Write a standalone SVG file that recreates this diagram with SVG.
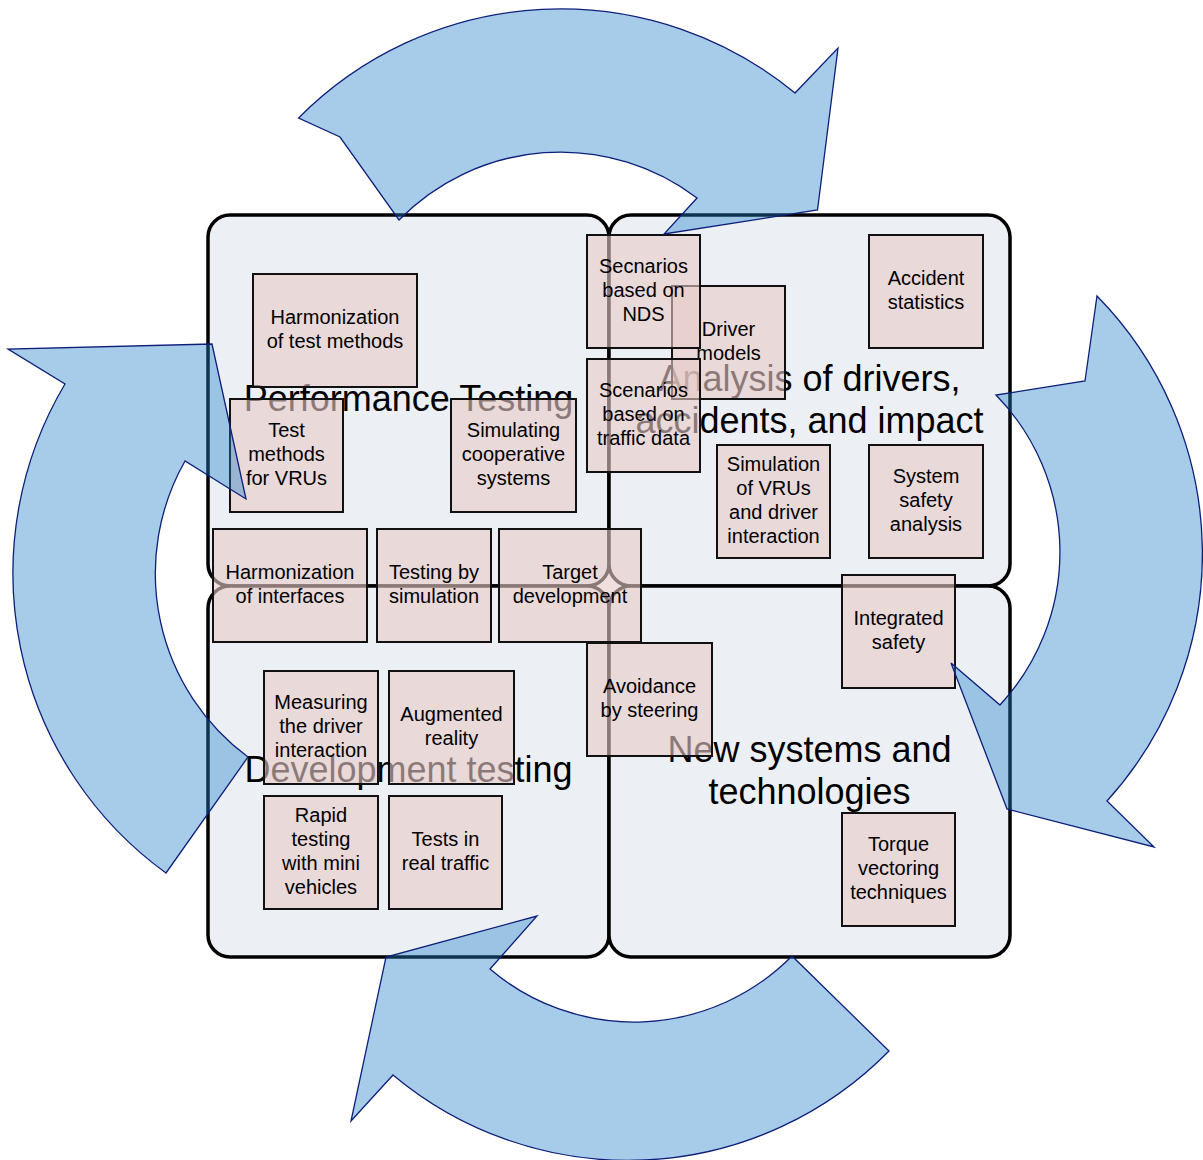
<svg xmlns="http://www.w3.org/2000/svg" width="1203" height="1160" viewBox="0 0 1203 1160">
<style>
.quad{fill:#ecf0f5;stroke:#000;stroke-width:3.5}
.qlabel{font-family:"Liberation Sans",Arial,sans-serif;font-size:36px;fill:#000;text-anchor:middle}
.box rect{fill:#e8cac6;fill-opacity:0.6;stroke:#111;stroke-width:2}
.box text{font-family:"Liberation Sans",Arial,sans-serif;font-size:20px;fill:#000;text-anchor:middle}
.arrow{fill:#2380c8;fill-opacity:0.4;stroke:#0d1f7a;stroke-width:1.3;stroke-linejoin:miter}
</style>
<rect width="1203" height="1160" fill="#fff"/>
<g id="quadrants">
<g id="q-performance"><rect class="quad" x="208" y="215" width="401" height="371" rx="22"/></g>
<g id="q-analysis"><rect class="quad" x="609" y="215" width="401" height="371" rx="22"/></g>
<g id="q-development"><rect class="quad" x="208" y="586" width="401" height="371" rx="22"/></g>
<g id="q-newsystems"><rect class="quad" x="609" y="586" width="401" height="371" rx="22"/></g>
</g>
<g id="quadrant-labels">
<text class="qlabel" x="408.5" y="411">Performance Testing</text>
<text class="qlabel" x="809.5" y="391">Analysis of drivers,</text>
<text class="qlabel" x="809.5" y="433">accidents, and impact</text>
<text class="qlabel" x="408.5" y="782">Development testing</text>
<text class="qlabel" x="809.5" y="762">New systems and</text>
<text class="qlabel" x="809.5" y="804">technologies</text>
</g>
<g id="nodes">
<g id="n-harm-test" class="box"><rect x="253" y="274" width="164" height="113"/><text x="335" y="324">Harmonization</text><text x="335" y="348">of test methods</text></g>
<g id="n-test-vru" class="box"><rect x="230" y="399" width="113" height="113"/><text x="286.5" y="437">Test</text><text x="286.5" y="461">methods</text><text x="286.5" y="485">for VRUs</text></g>
<g id="n-sim-coop" class="box"><rect x="451" y="399" width="125" height="113"/><text x="513.5" y="437">Simulating</text><text x="513.5" y="461">cooperative</text><text x="513.5" y="485">systems</text></g>
<g id="n-harm-if" class="box"><rect x="213" y="529" width="154" height="113"/><text x="290" y="579">Harmonization</text><text x="290" y="603">of interfaces</text></g>
<g id="n-test-sim" class="box"><rect x="377" y="529" width="114" height="113"/><text x="434" y="579">Testing by</text><text x="434" y="603">simulation</text></g>
<g id="n-target" class="box"><rect x="499" y="529" width="142" height="113"/><text x="570" y="579">Target</text><text x="570" y="603">development</text></g>
<g id="n-driver" class="box"><rect x="672" y="286" width="113" height="113"/><text x="728.5" y="336">Driver</text><text x="728.5" y="360">models</text></g>
<g id="n-nds" class="box"><rect x="587" y="235" width="113" height="113"/><text x="643.5" y="273">Secnarios</text><text x="643.5" y="297">based on</text><text x="643.5" y="321">NDS</text></g>
<g id="n-traffic" class="box"><rect x="587" y="359" width="113" height="113"/><text x="643.5" y="397">Scenarios</text><text x="643.5" y="421">based on</text><text x="643.5" y="445">traffic data</text></g>
<g id="n-accident" class="box"><rect x="869" y="235" width="114" height="113"/><text x="926" y="285">Accident</text><text x="926" y="309">statistics</text></g>
<g id="n-sim-vru" class="box"><rect x="717" y="445" width="113" height="113"/><text x="773.5" y="471">Simulation</text><text x="773.5" y="495">of VRUs</text><text x="773.5" y="519">and driver</text><text x="773.5" y="543">interaction</text></g>
<g id="n-safety" class="box"><rect x="869" y="445" width="114" height="113"/><text x="926" y="483">System</text><text x="926" y="507">safety</text><text x="926" y="531">analysis</text></g>
<g id="n-integrated" class="box"><rect x="842" y="575" width="113" height="113"/><text x="898.5" y="625">Integrated</text><text x="898.5" y="649">safety</text></g>
<g id="n-avoid" class="box"><rect x="587" y="643" width="125" height="113"/><text x="649.5" y="693">Avoidance</text><text x="649.5" y="717">by steering</text></g>
<g id="n-measure" class="box"><rect x="264" y="671" width="114" height="113"/><text x="321" y="709">Measuring</text><text x="321" y="733">the driver</text><text x="321" y="757">interaction</text></g>
<g id="n-ar" class="box"><rect x="389" y="671" width="125" height="113"/><text x="451.5" y="721">Augmented</text><text x="451.5" y="745">reality</text></g>
<g id="n-rapid" class="box"><rect x="264" y="796" width="114" height="113"/><text x="321" y="822">Rapid</text><text x="321" y="846">testing</text><text x="321" y="870">with mini</text><text x="321" y="894">vehicles</text></g>
<g id="n-real" class="box"><rect x="389" y="796" width="113" height="113"/><text x="445.5" y="846">Tests in</text><text x="445.5" y="870">real traffic</text></g>
<g id="n-torque" class="box"><rect x="842" y="813" width="113" height="113"/><text x="898.5" y="851">Torque</text><text x="898.5" y="875">vectoring</text><text x="898.5" y="899">techniques</text></g>
</g>
<g id="connectors">
<path id="arrow-top" class="arrow" d="M298.6 118 A369 369 0 0 1 795 93 L838 48 L817.5 210 L664 234 L697 198 A226 226 0 0 0 399 220 L340 137 Z"/>
<path id="arrow-right" class="arrow" d="M1097 296 A368 368 0 0 1 1107 801 L1154 847 L1007 809 L951 663 L1000 705 A225 225 0 0 0 996 395 L1085 381 Z"/>
<path id="arrow-bottom" class="arrow" d="M889 1051 A366 366 0 0 1 393 1075 L351 1121 L386 957 L537 916 L490 969 A222 222 0 0 0 792 956 Z"/>
<path id="arrow-left" class="arrow" d="M166 873 A370 370 0 0 1 65 384 L8 349 L212 344 L246 499 L185 461 A228 228 0 0 0 248 757 Z"/>
</g>
</svg>
